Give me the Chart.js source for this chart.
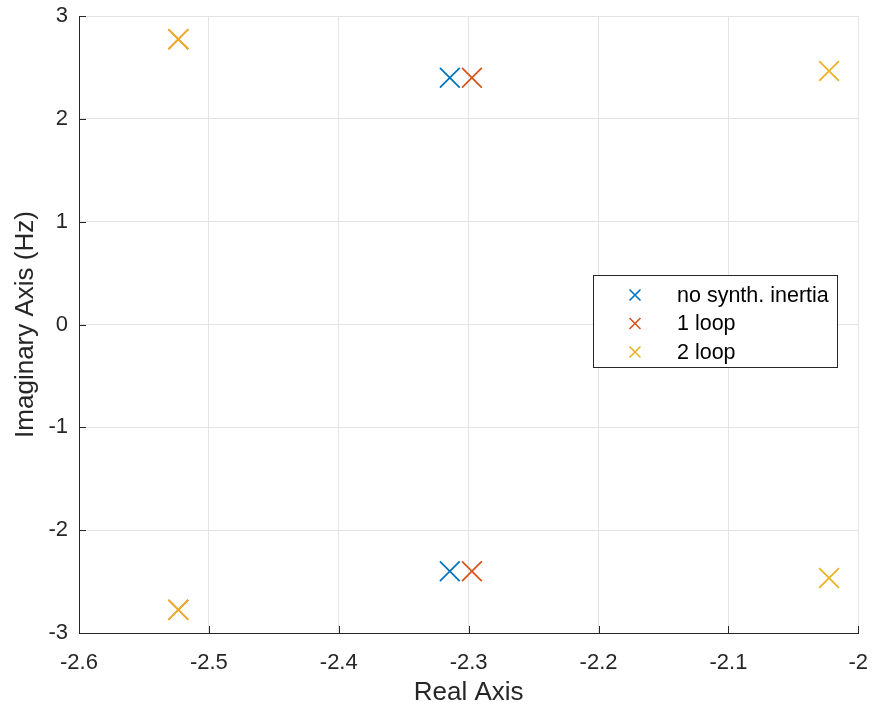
<!DOCTYPE html>
<html>
<head>
<meta charset="utf-8">
<script src="https://cdn.jsdelivr.net/npm/chart.js@4/dist/chart.umd.min.js"></script>
<style>
  html, body { margin: 0; padding: 0; background: #fff; }
  #wrap { width: 874px; height: 708px; }
</style>
</head>
<body>
<div id="wrap"><canvas id="poles"></canvas></div>
<script>
// pole locations
const noSynthPoles = [[-2.3145, 2.40], [-2.3145, -2.40]];
const oneLoopPoles = [[-2.2975, 2.40], [-2.2975, -2.40], [-2.5235, 2.775], [-2.5235, -2.775]];
const twoLoopPoles = [[-2.5235, 2.775], [-2.5235, -2.775], [-2.0225, 2.465], [-2.0225, -2.465]];
const seriesNames = ["no synth. inertia", "1 loop", "2 loop"];
const seriesColors = ["#0072BD", "#D95319", "#EDB120"];

const toPts = arr => arr.map(p => ({ x: p[0], y: p[1] }));
const font = "Helvetica, 'Liberation Sans', Arial, sans-serif";

// MATLAB style legend inside the axes + inward tick marks
const matlabBits = {
    id: "matlabBits",
    afterDraw(chart) {
        const ctx = chart.ctx;
        const xs = chart.scales.x, ys = chart.scales.y;
        const a = chart.chartArea;
        ctx.save();
        ctx.strokeStyle = "#262626";
        ctx.lineWidth = 1;
        xs.ticks.forEach(t => {
            const px = Math.round(xs.getPixelForValue(t.value)) + 0.5;
            ctx.beginPath(); ctx.moveTo(px, a.bottom); ctx.lineTo(px, a.bottom - 7); ctx.stroke();
        });
        ys.ticks.forEach(t => {
            const py = Math.round(ys.getPixelForValue(t.value)) + 0.5;
            ctx.beginPath(); ctx.moveTo(a.left, py); ctx.lineTo(a.left + 7, py); ctx.stroke();
        });

        // legend box
        const bx = 593.5, by = 275.5, bw = 244, bh = 92;
        ctx.fillStyle = "#fff";
        ctx.fillRect(bx, by, bw, bh);
        ctx.strokeStyle = "#262626";
        ctx.lineWidth = 1;
        ctx.strokeRect(bx, by, bw, bh);
        ctx.font = "21.5px " + font;
        ctx.textBaseline = "middle";
        seriesNames.forEach((name, i) => {
            const cy = 295 + i * 28.5;
            const cx = 635;
            ctx.strokeStyle = seriesColors[i];
            ctx.lineWidth = 1.6;
            ctx.beginPath();
            ctx.moveTo(cx - 5.5, cy - 5.5); ctx.lineTo(cx + 5.5, cy + 5.5);
            ctx.moveTo(cx - 5.5, cy + 5.5); ctx.lineTo(cx + 5.5, cy - 5.5);
            ctx.stroke();
            ctx.fillStyle = "#000";
            ctx.fillText(name, 677, cy + 1);
        });
        ctx.restore();
    }
};

const mkSet = (data, i) => ({
    label: seriesNames[i],
    data: toPts(data),
    order: 2 - i,
    pointStyle: "crossRot",
    pointRadius: 14,
    pointHoverRadius: 14,
    borderColor: seriesColors[i],
    backgroundColor: seriesColors[i],
    pointBorderWidth: 1.7,
    showLine: false,
    clip: false
});

new Chart(document.getElementById("poles"), {
    type: "scatter",
    data: {
        datasets: [mkSet(noSynthPoles, 0), mkSet(oneLoopPoles, 1), mkSet(twoLoopPoles, 2)]
    },
    options: {
        responsive: true,
        maintainAspectRatio: false,
        animation: false,
        layout: { padding: { top: 16, right: 14, left: 0, bottom: 0 } },
        plugins: { legend: { display: false }, tooltip: { enabled: false } },
        scales: {
            x: {
                type: "linear",
                min: -2.6,
                max: -2,
                afterFit: s => { s.height = 75; s.paddingLeft = 0; s.paddingRight = 0; },
                ticks: {
                    stepSize: 0.1,
                    color: "#262626",
                    font: { size: 22, family: font },
                    padding: 17,
                    maxRotation: 0,
                    callback: v => Math.abs(v - Math.round(v)) < 1e-9 ? String(Math.round(v)) : v.toFixed(1)
                },
                grid: { color: "#e3e3e3", lineWidth: 1, tickLength: 0 },
                border: { color: "#262626", width: 1 },
                title: {
                    display: true,
                    text: "Real Axis",
                    color: "#262626",
                    font: { size: 26, family: font },
                    padding: { top: 4, bottom: 0 }
                }
            },
            y: {
                type: "linear",
                min: -3,
                max: 3,
                afterFit: s => { s.width = 79; s.paddingTop = 0; s.paddingBottom = 0; },
                ticks: {
                    stepSize: 1,
                    color: "#262626",
                    font: { size: 22, family: font },
                    padding: 11
                },
                grid: { color: "#e3e3e3", lineWidth: 1, tickLength: 0 },
                border: { color: "#262626", width: 1 },
                title: {
                    display: true,
                    text: "Imaginary Axis (Hz)",
                    color: "#262626",
                    font: { size: 26, family: font },
                    padding: { top: 10, bottom: 0 }
                }
            }
        }
    },
    plugins: [matlabBits]
});
</script>
</body>
</html>
